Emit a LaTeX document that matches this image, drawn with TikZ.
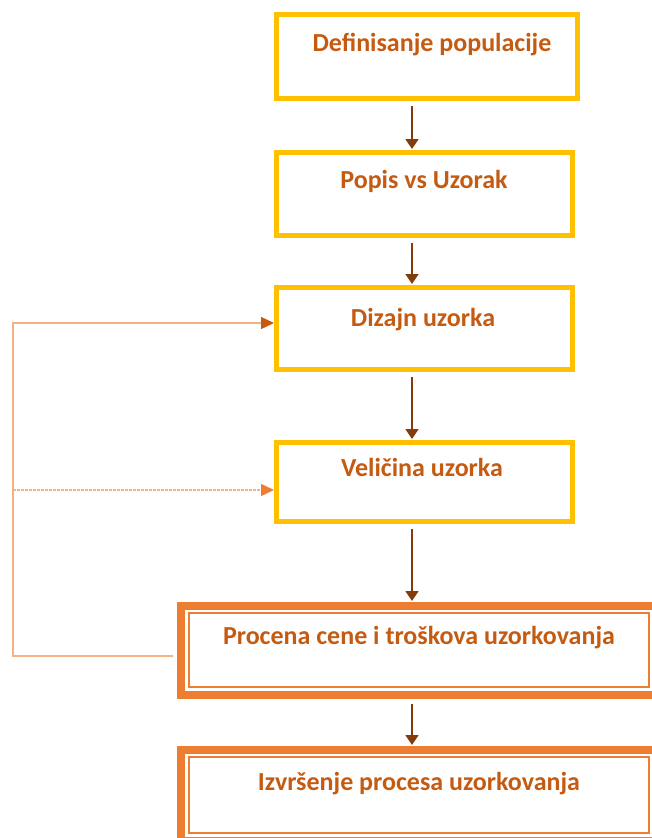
\documentclass[tikz,border=0pt]{standalone}
\usepackage{fontspec}
\setmainfont{Carlito}
\usetikzlibrary{arrows.meta}
\definecolor{boxyellow}{HTML}{FFC000}
\definecolor{boxorange}{HTML}{ED7D31}
\definecolor{txtorange}{HTML}{C55A11}
\definecolor{arrowbrown}{HTML}{843C0C}
\definecolor{fblight}{HTML}{F4B183}
\begin{document}
\begin{tikzpicture}[x=1pt,y=-1pt,
  ybox/.style={draw=boxyellow, line width=5pt, rectangle, inner sep=0pt},
  obox/.style={draw=boxorange, line width=8pt, rectangle, inner sep=0pt},
  ibox/.style={draw=boxorange, line width=1.8pt, rectangle, inner sep=0pt},
  lbl/.style={anchor=base, text=txtorange, font=\fontsize{26}{30}\selectfont\bfseries, inner sep=0pt},
  flow/.style={draw=arrowbrown, line width=1.8pt, -{Triangle[length=10pt,width=13pt]}, shorten <=5pt, shorten >=1pt},
  fb/.style={draw=fblight, line width=1.4pt}
]
\useasboundingbox (0,0) rectangle (652,838);

% main column of boxes
\node[ybox, minimum width=301pt, minimum height=84pt] (b1) at (427,56.5) {};
\node[ybox, minimum width=296pt, minimum height=83pt] (b2) at (424.5,194) {};
\node[ybox, minimum width=296pt, minimum height=82pt] (b3) at (424.5,328.5) {};
\node[ybox, minimum width=296pt, minimum height=79pt] (b4) at (424.5,482) {};
\node[obox, minimum width=475pt, minimum height=89pt] (b5) at (418.5,650.5) {};
\node[ibox, minimum width=460pt, minimum height=74pt] (b5i) at (419,650) {};
\node[obox, minimum width=475pt, minimum height=91pt] (b6) at (418.5,795.5) {};
\node[ibox, minimum width=460pt, minimum height=76pt] (b6i) at (419,795) {};

% box titles
\node[lbl] (t1) at (432,51) {Definisanje populacije};
\node[lbl] (t2) at (424,188) {Popis vs Uzorak};
\node[lbl] (t3) at (423,326) {Dizajn uzorka};
\node[lbl] (t4) at (422,476) {Veličina uzorka};
\node[lbl] (t5) at (419,644) {Procena cene i troškova uzorkovanja};
\node[lbl] (t6) at (419,790) {Izvršenje procesa uzorkovanja};

% downward flow
\coordinate (ax) at (412,0);
\draw[flow] (b1.south -| ax) -- (b2.north -| ax);
\draw[flow] (b2.south -| ax) -- (b3.north -| ax);
\draw[flow] (b3.south -| ax) -- (b4.north -| ax);
\draw[flow] (b4.south -| ax) -- (b5.north -| ax);
\draw[flow] (b5.south -| ax) -- (b6.north -| ax);

% feedback loop on the left
\coordinate (c1) at (13,656);
\coordinate (c2) at (13,323);
\coordinate (c3) at (13,490);
\draw[fb, -{Triangle[length=13pt,width=12pt,fill=txtorange,color=txtorange]}]
  ([xshift=-4pt]b5.west |- c1) -- (c1) -- (c2) -- (c2 -| b3.west);
\draw[fb, dash pattern=on 3pt off 1pt, -{Triangle[length=13pt,width=12pt,fill=boxorange,color=boxorange]}]
  (c3) -- (c3 -| b4.west);
\end{tikzpicture}
\end{document}
